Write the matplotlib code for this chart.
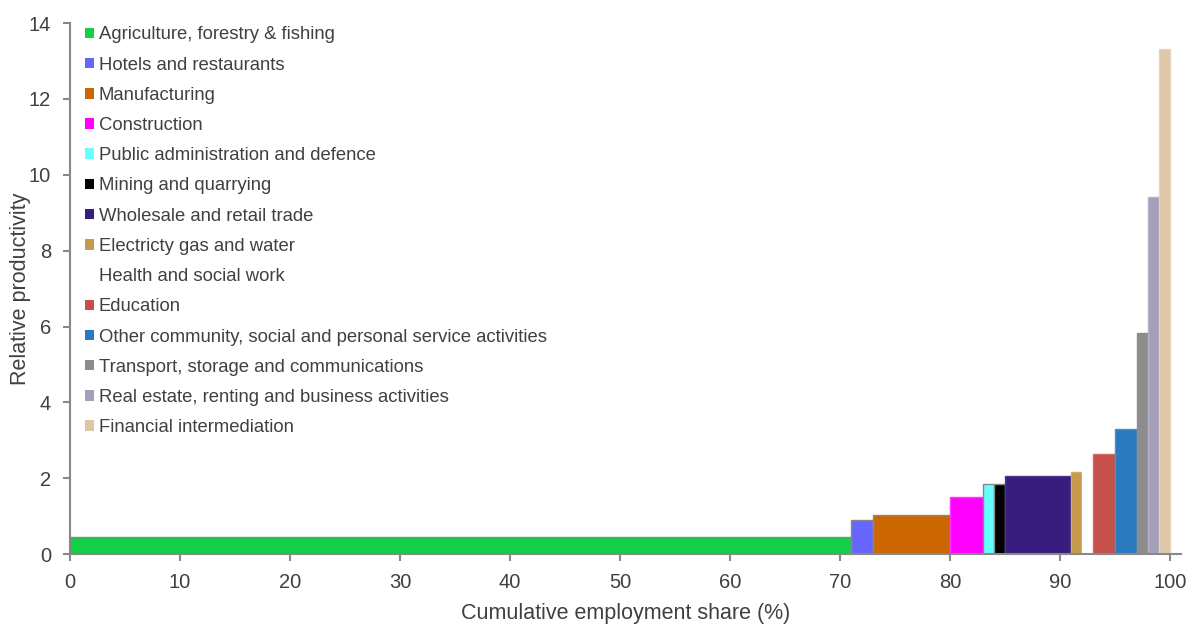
import numpy as np
import matplotlib
matplotlib.use('Agg')
import matplotlib.pyplot as plt

plt.rcParams['font.family'] = ['Liberation Sans', 'DejaVu Sans']

sectors = [
    'Agriculture, forestry & fishing',
    'Hotels and restaurants',
    'Manufacturing',
    'Construction',
    'Public administration and defence',
    'Mining and quarrying',
    'Wholesale and retail trade',
    'Electricty gas and water',
    'Health and social work',
    'Education',
    'Other community, social and personal service activities',
    'Transport, storage and communications',
    'Real estate, renting and business activities',
    'Financial intermediation',
]
# employment share (%) -> bar width
emp_share = [71, 2, 7, 3, 1, 1, 6, 1, 1, 2, 2, 1, 1, 1]
# relative productivity -> bar height
rel_prod = [0.44, 0.90, 1.02, 1.51, 1.84, 1.86, 2.05, 2.16, 2.40, 2.63, 3.31, 5.82, 9.41, 13.32]

colors = ['#13CE47', '#6666FF', '#CC6600', '#FF00FF', '#66FFFF', '#000000',
          '#381D7E', '#C69A4C', '#FFFFFF', '#C5504B', '#2A7ABF', '#8C8C8C',
          '#A5A0B9', '#DEC6A8']
edges = ['#888888', '#888888', '#888888', '#FF33FF', '#888888', '#888888',
         '#4A3590', '#D4AC60', '#FFFFFF', '#D46A64', '#4A90CC', '#8C8C8C',
         '#B5B0C8', '#E8D4BA']

TXT = '#404040'
AX = '#888888'

left = np.concatenate([[0], np.cumsum(emp_share)[:-1]])

fig = plt.figure(figsize=(11.92, 6.24), dpi=100)
ax = fig.add_axes([0.0587, 0.112, 0.9320, 0.851])

bars = ax.bar(left, rel_prod, width=emp_share, align='edge',
              color=colors, edgecolor=edges, linewidth=1.0, zorder=2)

ax.set_xlim(0, 101)
ax.set_ylim(0, 14)
ax.set_xticks(np.arange(0, 101, 10))
ax.set_yticks(np.arange(0, 15, 2))

for s in ('top', 'right'):
    ax.spines[s].set_visible(False)
for s in ('left', 'bottom'):
    ax.spines[s].set_color(AX)
    ax.spines[s].set_linewidth(1.5)
ax.tick_params(axis='both', colors=AX, length=5, width=1.5, direction='out',
               labelsize=14.5, labelcolor=TXT, pad=8.5)

ax.set_xlabel('Cumulative employment share (%)', fontsize=15.5, color=TXT, labelpad=8)
ax.set_ylabel('Relative productivity', fontsize=15.5, color=TXT, labelpad=-1.5)

handles = list(bars.patches)
leg = ax.legend(handles, sectors, loc='upper left',
                bbox_to_anchor=(0.002, 1.018), frameon=False,
                fontsize=13.3, labelcolor=TXT,
                handlelength=0.5, handleheight=0.5, handletextpad=0.25,
                labelspacing=0.715, borderpad=0.2)
for h in leg.legend_handles:
    h.set_linewidth(0)

fig.savefig('out.png', dpi=100)
